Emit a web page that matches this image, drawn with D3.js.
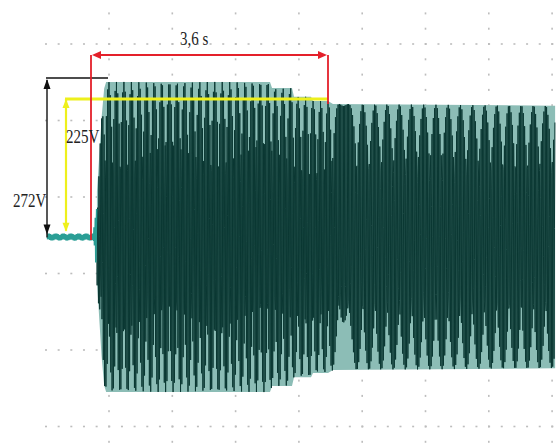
<!DOCTYPE html>
<html>
<head>
<meta charset="utf-8">
<script src="https://cdn.jsdelivr.net/npm/d3@7"></script>
<style>
  html, body { margin: 0; padding: 0; background: #fff; }
  svg { display: block; }
</style>
</head>
<body>
<svg id="chart" width="560" height="445"></svg>
<script>
// Generator output voltage: peak of the envelope (V) against time (s), t = 0 at the load step
const envTimes = [-0.66, 0.03, 0.06, 0.11, 0.16, 0.20, 0.23, 2.719, 2.750, 3.053, 3.084, 3.342, 3.372, 3.600, 3.676, 7.05];
const envPeakV = [6, 6, 25, 110, 200, 250, 261, 261, 251, 251, 236, 236, 229, 229, 224, 221];

// Generator frequency (Hz) over the same record
const freqTimes = [0.2, 3.62, 3.83, 4.02, 7.05];
const freqHz    = [52.9, 52.9, 50.0, 48.2, 48.2];

// Scope acquisition rate (samples per second)
const sampleRate = 150;

// Annotated quantities
const spanSeconds = 3.6;
const spanLabel = "3,6 s";
const peakVolts = [272, 225];
const peakLabels = ["272V", "225V"];

const svg = d3.select("#chart");

// Time and voltage scales
const x = d3.scaleLinear().domain([0, spanSeconds]).range([91, 328]);
const y = d3.scaleLinear().domain([0, 272]).range([237, 75.4]);

// ---- graticule (dotted) ----
const grid = svg.append("g").attr("fill", "#bdbdbd");
const vLines = d3.range(8).map(i => 109 + 63.3 * i);
const hLines = d3.range(6).map(j => 44 + 76.5 * j);
hLines.forEach(gy => {
  d3.range(46, 560, 63.3 / 5).forEach(gx => {
    grid.append("rect").attr("x", gx - 1).attr("y", gy - 0.8).attr("width", 2).attr("height", 1.6);
  });
});
vLines.forEach(gx => {
  d3.range(44 - 15.3 * 3, 445, 15.3).forEach(gy => {
    grid.append("rect").attr("x", gx - 0.8).attr("y", gy - 1).attr("width", 1.6).attr("height", 2);
  });
});

// ---- sampled waveform ----
const fAt = d3.scaleLinear().domain(freqTimes).range(freqHz).clamp(true);
const aAt = d3.scaleLinear().domain(envTimes).range(envPeakV).clamp(true);
const tStart = envTimes[0], tEnd = envTimes[envTimes.length - 1];
const n = Math.floor((tEnd - tStart) * sampleRate);
const samples = [];
let ph = 0;
for (let k = 0; k <= n; k++) {
  const t = tStart + k / sampleRate;
  samples.push({ t, ph });
  ph += 2 * Math.PI * fAt(t) / sampleRate;
}
// sample phase where the frequency passes 50 Hz: just past the crest
const crossing = samples.reduce((a, b) => Math.abs(b.t - 3.83) < Math.abs(a.t - 3.83) ? b : a);
const phase0 = Math.PI / 2 + Math.PI / 18 - crossing.ph;
samples.forEach(s => { s.v = aAt(s.t) * Math.sin(s.ph + phase0); });

const tRise = 0.09;

// persistence envelope (light band)
const envPts = [tRise].concat(envTimes.filter(t => t > tRise));
const area = d3.area()
  .x(t => x(t))
  .y0(t => y(-aAt(t)))
  .y1(t => y(aAt(t)));
svg.append("path")
  .attr("d", area(envPts))
  .attr("fill", "#8cbdb6");

const line = d3.line().x(d => x(d.t)).y(d => y(d.v));

// main trace
svg.append("path")
  .attr("d", line(samples.filter(s => s.t >= tRise - 0.01)))
  .attr("fill", "none")
  .attr("stroke", "#0b3833")
  .attr("stroke-width", 1)
  .attr("stroke-linejoin", "bevel");

// pre-step trace
svg.append("path")
  .attr("d", line(samples.filter(s => s.t <= tRise)))
  .attr("fill", "none")
  .attr("stroke", "#2a9e95")
  .attr("stroke-width", 1.6)
  .attr("stroke-linejoin", "bevel");

// ---- annotations ----
function arrowHead(g, tipX, tipY, dir, len, half, color) {
  let p;
  if (dir === "up") p = [[tipX, tipY], [tipX - half, tipY + len], [tipX + half, tipY + len]];
  if (dir === "down") p = [[tipX, tipY], [tipX - half, tipY - len], [tipX + half, tipY - len]];
  if (dir === "left") p = [[tipX, tipY], [tipX + len, tipY - half], [tipX + len, tipY + half]];
  if (dir === "right") p = [[tipX, tipY], [tipX - len, tipY - half], [tipX - len, tipY + half]];
  g.append("path").attr("d", "M" + p.join("L") + "Z").attr("fill", color);
}
const ann = svg.append("g");
const lenFor = v => y(0) - y(v);

// 272 V: black double arrow
{
  const bx = 47, topY = 78, botY = topY + lenFor(peakVolts[0]);
  ann.append("line").attr("x1", 46).attr("x2", 108).attr("y1", topY).attr("y2", topY)
    .attr("stroke", "#111").attr("stroke-width", 1.4);
  ann.append("line").attr("x1", bx).attr("x2", bx).attr("y1", topY + 2).attr("y2", botY - 2)
    .attr("stroke", "#111").attr("stroke-width", 1.4);
  arrowHead(ann, bx, topY + 1, "up", 10, 3.5, "#111");
  arrowHead(ann, bx, botY - 5, "down", 10, 3.5, "#111");
}

// 225 V: yellow double arrow
{
  const yx = 66, topY = 99, botY = topY + lenFor(peakVolts[1]);
  ann.append("line").attr("x1", 65).attr("x2", x(spanSeconds)).attr("y1", topY).attr("y2", topY)
    .attr("stroke", "#eef01c").attr("stroke-width", 2.8);
  ann.append("line").attr("x1", yx).attr("x2", yx).attr("y1", topY).attr("y2", botY - 2)
    .attr("stroke", "#eef01c").attr("stroke-width", 2.2);
  arrowHead(ann, yx, topY, "up", 9, 3.5, "#eef01c");
  arrowHead(ann, yx, botY - 1, "down", 9, 3.5, "#eef01c");
}

// 3,6 s: red span
{
  const ry = 55, x0 = x(0), x1 = x(spanSeconds);
  ann.append("line").attr("x1", x0).attr("x2", x0).attr("y1", ry).attr("y2", 240)
    .attr("stroke", "#e4202a").attr("stroke-width", 1.8);
  ann.append("line").attr("x1", x1).attr("x2", x1).attr("y1", ry).attr("y2", 104)
    .attr("stroke", "#e4202a").attr("stroke-width", 1.8);
  ann.append("line").attr("x1", x0 + 4).attr("x2", x1 - 4).attr("y1", ry).attr("y2", ry)
    .attr("stroke", "#e4202a").attr("stroke-width", 1.8);
  arrowHead(ann, x0 + 1, ry, "left", 9, 4, "#e4202a");
  arrowHead(ann, x1 - 1, ry, "right", 9, 4, "#e4202a");
}

// labels
const font = "'Liberation Serif', 'Times New Roman', serif";
function label(txt, lx, ly) {
  ann.append("text")
    .attr("transform", `translate(${lx},${ly}) scale(1,1.3)`)
    .attr("font-family", font)
    .attr("font-size", 15)
    .attr("fill", "#222")
    .text(txt);
}
label(spanLabel, 180, 45);
label(peakLabels[1], 66, 143);
label(peakLabels[0], 13, 207);
</script>
</body>
</html>
